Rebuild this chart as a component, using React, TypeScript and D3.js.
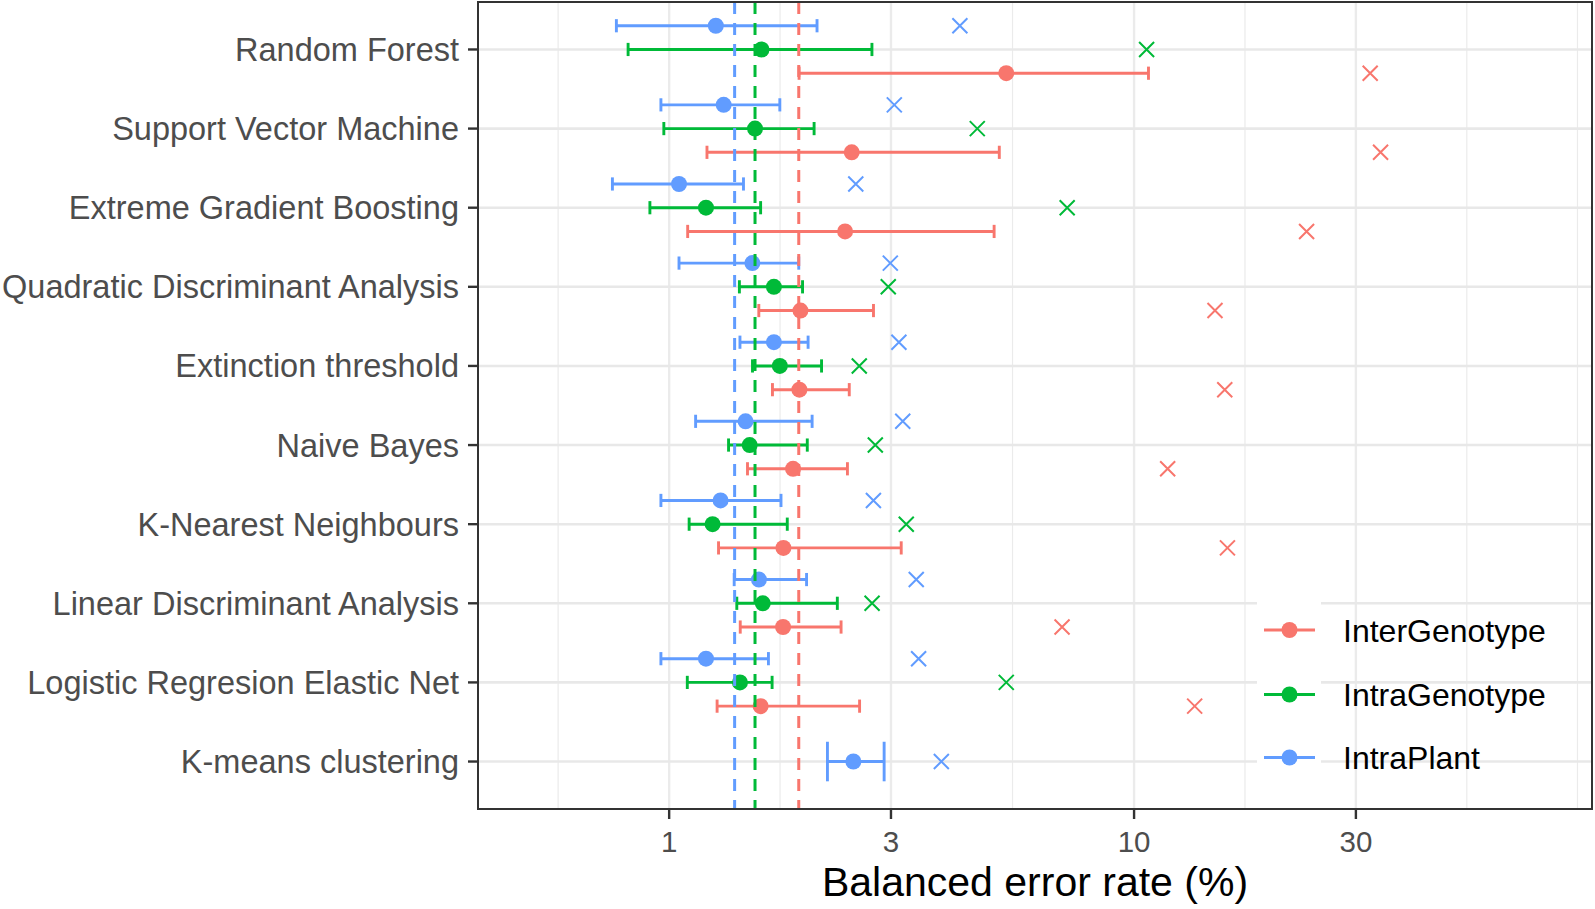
import React from "react";
import * as d3 from "d3";

// ---------- data ----------
const categories = [
  "Random Forest",
  "Support Vector Machine",
  "Extreme Gradient Boosting",
  "Quadratic Discriminant Analysis",
  "Extinction threshold",
  "Naive Bayes",
  "K-Nearest Neighbours",
  "Linear Discriminant Analysis",
  "Logistic Regresion Elastic Net",
  "K-means clustering",
];

const seriesNames = ["InterGenotype", "IntraGenotype", "IntraPlant"];
const seriesColors = ["#F8766D", "#00BA38", "#619CFF"];

// IntraPlant
const intraPlantMean = [1.26, 1.31, 1.05, 1.51, 1.68, 1.46, 1.29, 1.56, 1.2, 2.49];
const intraPlantLo = [0.77, 0.96, 0.755, 1.05, 1.42, 1.14, 0.96, 1.38, 0.96, 2.19];
const intraPlantHi = [2.08, 1.73, 1.445, 1.9, 1.99, 2.03, 1.74, 1.975, 1.635, 2.9];
const intraPlantCross = [4.22, 3.05, 2.52, 2.99, 3.12, 3.18, 2.75, 3.4, 3.44, 3.85];

// IntraGenotype
const intraGenoMean = [1.58, 1.53, 1.2, 1.68, 1.73, 1.49, 1.24, 1.59, 1.42, null];
const intraGenoLo = [0.816, 0.974, 0.909, 1.416, 1.511, 1.342, 1.104, 1.398, 1.094, null];
const intraGenoHi = [2.73, 2.05, 1.573, 1.936, 2.127, 1.982, 1.795, 2.3, 1.665, null];
const intraGenoCross = [10.64, 4.6, 7.18, 2.96, 2.564, 2.776, 3.236, 2.732, 5.31, null];

// InterGenotype
const interGenoMean = [5.31, 2.47, 2.39, 1.916, 1.906, 1.847, 1.761, 1.758, 1.573, null];
const interGenoLo = [1.903, 1.206, 1.096, 1.559, 1.668, 1.474, 1.277, 1.422, 1.268, null];
const interGenoHi = [10.74, 5.13, 5.0, 2.751, 2.44, 2.418, 3.156, 2.343, 2.568, null];
const interGenoCross = [32.2, 33.9, 23.5, 14.93, 15.67, 11.81, 15.88, 7.0, 13.5, null];

// overall reference lines (dashed)
const refValues = [1.9, 1.53, 1.383]; // Inter, Intra-genotype, Intra-plant

const xTicks = [1, 3, 10, 30];
const xMinorBreaks = [0.577, 1.732, 5.477, 17.32, 51.96, 89.9];
const xDomain = [0.388, 96.6];

// ---------- layout ----------
const W = 1595;
const H = 909;
const panel = { left: 478, right: 1592, top: 2, bottom: 809 };

export default function App() {
  const x = d3.scaleLog().domain(xDomain).range([panel.left, panel.right]);
  const y = d3
    .scalePoint<string>()
    .domain(categories)
    .range([panel.top, panel.bottom])
    .padding(0.6);
  const step = y.step();

  const series = [
    { mean: interGenoMean, lo: interGenoLo, hi: interGenoHi, cross: interGenoCross },
    { mean: intraGenoMean, lo: intraGenoLo, hi: intraGenoHi, cross: intraGenoCross },
    { mean: intraPlantMean, lo: intraPlantLo, hi: intraPlantHi, cross: intraPlantCross },
  ];

  // dodge: group order within category = IntraPlant (top), IntraGenotype, InterGenotype (bottom)
  const dodgeOrder = [2, 1, 0];
  type Mark = { s: number; ci: number; yc: number; half: number };
  const marks: Mark[] = [];
  categories.forEach((cat, ci) => {
    const present = dodgeOrder.filter((s) => series[s].mean[ci] != null);
    const n = present.length;
    present.forEach((s, k) => {
      const off = (k - (n - 1) / 2) * (0.9 / n) * step;
      marks.push({ s, ci, yc: (y(cat) as number) + off, half: (0.5 / n) * step / 2 });
    });
  });

  const crossSize = 7.5;
  const legendRows = [630, 694.5, 757.5];
  const ptR = 8;

  return (
    <svg
      width={W}
      height={H}
      style={{ position: "absolute", left: 0, top: 0, display: "block", background: "#fff" }}
      fontFamily="'Liberation Sans', Arial, Helvetica, sans-serif"
    >
      <rect x={0} y={0} width={W} height={H} fill="#fff" />
      <defs>
        <clipPath id="panelClip">
          <rect x={panel.left} y={panel.top} width={panel.right - panel.left} height={panel.bottom - panel.top} />
        </clipPath>
      </defs>

      {/* grid */}
      <g clipPath="url(#panelClip)">
        {xMinorBreaks.map((v) => (
          <line key={"mn" + v} x1={x(v)} x2={x(v)} y1={panel.top} y2={panel.bottom} stroke="#EBEBEB" strokeWidth={1.2} />
        ))}
        {xTicks.map((v) => (
          <line key={"mj" + v} x1={x(v)} x2={x(v)} y1={panel.top} y2={panel.bottom} stroke="#EBEBEB" strokeWidth={2.4} />
        ))}
        {categories.map((c) => (
          <line key={"h" + c} x1={panel.left} x2={panel.right} y1={y(c)} y2={y(c)} stroke="#E8E8E8" strokeWidth={2.6} />
        ))}
      </g>

      {/* legend key backgrounds (cover gridlines) */}
      {legendRows.map((ly, i) => (
        <rect key={"lk" + i} x={1257} y={ly - 32} width={64} height={64} fill="#fff" />
      ))}

      {/* error bars */}
      <g clipPath="url(#panelClip)">
        {marks.map((m) => {
          const sr = series[m.s];
          const lo = sr.lo[m.ci] as number;
          const hi = sr.hi[m.ci] as number;
          const col = seriesColors[m.s];
          return (
            <g key={"eb" + m.s + "-" + m.ci} stroke={col} strokeWidth={2.9}>
              <line x1={x(lo)} x2={x(hi)} y1={m.yc} y2={m.yc} />
              <line x1={x(lo)} x2={x(lo)} y1={m.yc - m.half} y2={m.yc + m.half} />
              <line x1={x(hi)} x2={x(hi)} y1={m.yc - m.half} y2={m.yc + m.half} />
            </g>
          );
        })}
        {marks.map((m) => (
          <circle
            key={"pt" + m.s + "-" + m.ci}
            cx={x(series[m.s].mean[m.ci] as number)}
            cy={m.yc}
            r={ptR}
            fill={seriesColors[m.s]}
          />
        ))}
        {marks.map((m) => {
          const cx = x(series[m.s].cross[m.ci] as number);
          const cy = m.yc;
          return (
            <path
              key={"cr" + m.s + "-" + m.ci}
              d={`M${cx - crossSize},${cy - crossSize}L${cx + crossSize},${cy + crossSize}M${cx - crossSize},${cy + crossSize}L${cx + crossSize},${cy - crossSize}`}
              stroke={seriesColors[m.s]}
              strokeWidth={2}
              fill="none"
            />
          );
        })}
        {refValues.map((v, i) => (
          <line
            key={"ref" + i}
            x1={x(v)}
            x2={x(v)}
            y1={panel.top}
            y2={panel.bottom}
            stroke={seriesColors[i]}
            strokeWidth={3}
            strokeDasharray="12,9"
          />
        ))}
      </g>

      {/* panel border */}
      <rect
        x={panel.left}
        y={panel.top}
        width={panel.right - panel.left}
        height={panel.bottom - panel.top}
        fill="none"
        stroke="#333333"
        strokeWidth={2}
      />

      {/* y axis ticks and labels */}
      {categories.map((c) => (
        <g key={"yl" + c}>
          <line x1={panel.left - 10} x2={panel.left} y1={y(c)} y2={y(c)} stroke="#333333" strokeWidth={2.4} />
          <text
            x={panel.left - 19}
            y={(y(c) as number) + 11.5}
            textAnchor="end"
            fontSize={32.5}
            fill="#4D4D4D"
          >
            {c}
          </text>
        </g>
      ))}

      {/* x axis ticks and labels */}
      {xTicks.map((v) => (
        <g key={"xt" + v}>
          <line x1={x(v)} x2={x(v)} y1={panel.bottom} y2={panel.bottom + 10} stroke="#333333" strokeWidth={2.4} />
          <text x={x(v)} y={852} textAnchor="middle" fontSize={29.5} fill="#4D4D4D">
            {v}
          </text>
        </g>
      ))}
      <text x={(panel.left + panel.right) / 2} y={896} textAnchor="middle" fontSize={41} fill="#000">
        Balanced error rate (%)
      </text>

      {/* legend */}
      {seriesNames.map((name, i) => (
        <g key={"lg" + name}>
          <line x1={1264} x2={1315} y1={legendRows[i]} y2={legendRows[i]} stroke={seriesColors[i]} strokeWidth={3} />
          <circle cx={1289.5} cy={legendRows[i]} r={ptR} fill={seriesColors[i]} />
          <text x={1343} y={legendRows[i] + 11.5} fontSize={32} fill="#000">
            {name}
          </text>
        </g>
      ))}
    </svg>
  );
}
